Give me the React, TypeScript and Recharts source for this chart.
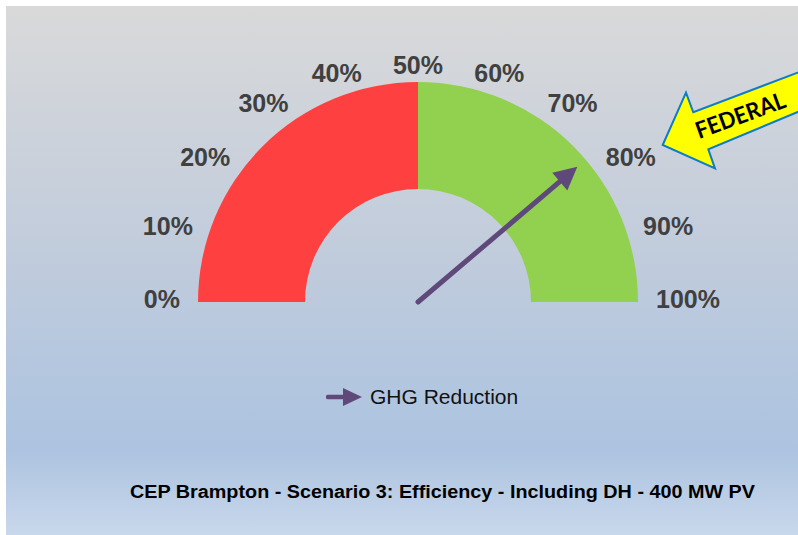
import React from 'react';
import { PieChart, Pie, Cell, Legend, Customized } from 'recharts';

// ---- data ----
const bands = [
  { name: 'Below target', value: 50 },
  { name: 'Above target', value: 50 },
];
const bandColors = ['#FF4040', '#92D050'];
const scaleMax = 100;
const ghgReduction = 77.6;
const seriesName = 'GHG Reduction';
const tickLabels = ['0%', '10%', '20%', '30%', '40%', '50%', '60%', '70%', '80%', '90%', '100%'];
const chartTitle = 'CEP Brampton - Scenario 3: Efficiency - Including DH - 400 MW PV';
const calloutText = 'FEDERAL';

const needleData = [
  { name: seriesName, value: ghgReduction },
  { name: 'Remainder', value: scaleMax - ghgReduction },
];
const tickData = tickLabels.map((label) => ({ name: label, value: 1 }));

// ---- layout ----
const W = 792;
const H = 529;
const CX = 412;
const CY = 296;
const RAD = Math.PI / 180;
const NEEDLE_COLOR = '#5F497A';
const step = 180 / (tickLabels.length - 1);

const polar = (cx: number, cy: number, r: number, angle: number) => ({
  x: cx + Math.cos(-angle * RAD) * r,
  y: cy + Math.sin(-angle * RAD) * r,
});

const renderTick = (p: any) => {
  const { cx, cy, midAngle, index } = p;
  const label = tickLabels[index];
  const fs = 25;
  const w = ((label.length - 1) * 0.556 + 0.889) * fs;
  const c = Math.cos(-midAngle * RAD);
  const s = Math.sin(-midAngle * RAD);
  const s2 = Math.sin(2 * midAngle * RAD);
  const x = cx + c * (238 + w / 2);
  const y = cy + s * (237 + 9 * s2 * s2) - 3 * (1 - Math.abs(s));
  return (
    <text
      key={`tick-${index}`}
      x={x}
      y={y}
      textAnchor="middle"
      dominantBaseline="central"
      fontFamily="'Liberation Sans', Arial, sans-serif"
      fontWeight="bold"
      fontSize={fs}
      fill="#404040"
    >
      {label}
    </text>
  );
};

const renderNeedle = (p: any) => {
  if (p.index !== 0) return null;
  const { cx, cy, endAngle, outerRadius } = p;
  const headLen = 23;
  const halfW = 11.6;
  const tip = polar(cx, cy, outerRadius, endAngle);
  const base = polar(cx, cy, outerRadius - headLen, endAngle);
  const ux = Math.cos(-endAngle * RAD);
  const uy = Math.sin(-endAngle * RAD);
  const nx = -uy;
  const ny = ux;
  const pts = `${tip.x},${tip.y} ${base.x + nx * halfW},${base.y + ny * halfW} ${base.x - nx * halfW},${base.y - ny * halfW}`;
  return (
    <g key="needle">
      <line x1={cx} y1={cy} x2={base.x + ux * 3} y2={base.y + uy * 3} stroke={NEEDLE_COLOR} strokeWidth={5} strokeLinecap="round" />
      <polygon points={pts} fill={NEEDLE_COLOR} />
    </g>
  );
};

const LegendContent = () => (
  <div style={{ display: 'flex', alignItems: 'center', height: 30 }}>
    <svg width={38} height={22} style={{ display: 'block' }}>
      <line x1={2} y1={11} x2={22} y2={11} stroke={NEEDLE_COLOR} strokeWidth={4.5} strokeLinecap="round" />
      <polygon points="36,11 17,2 17,20" fill={NEEDLE_COLOR} />
    </svg>
    <span
      style={{
        marginLeft: 6,
        fontFamily: "'Liberation Sans', Arial, sans-serif",
        fontSize: 21,
        color: '#111111',
        lineHeight: '30px',
        whiteSpace: 'nowrap',
      }}
    >
      {seriesName}
    </span>
  </div>
);

const Decorations = () => (
  <g>
    <polygon
      points="656.7,139 680,86.7 687.3,106.3 830,52 830,90 702.3,143.3 709,162.3"
      fill="#FFFF00"
      stroke="#0C7CC8"
      strokeWidth={2}
      strokeLinejoin="miter"
    />
    <text
      x={693}
      y={133}
      transform="rotate(-20 693 133)"
      fontFamily="Lato, 'Liberation Sans', Arial, sans-serif"
      fontWeight="bold"
      fontSize={23}
      fill="#000000"
      textLength={94}
      lengthAdjust="spacingAndGlyphs"
    >
      {calloutText}
    </text>
    <text
      x={124}
      y={492}
      fontFamily="'Liberation Sans Narrow', 'Liberation Sans', Arial, sans-serif"
      fontWeight="bold"
      fontSize={18}
      fill="#000000"
      textLength={625}
      lengthAdjust="spacingAndGlyphs"
    >
      {chartTitle}
    </text>
  </g>
);

export default function App() {
  return (
    <div
      style={{
        position: 'absolute',
        left: 6,
        top: 6,
        width: W,
        height: H,
        background:
          'linear-gradient(to bottom, #d9d9d9 0%, #ccd2db 25%, #bfcbdc 50%, #b2c6df 72%, #adc3df 84%, #c8d8ec 100%)',
        overflow: 'hidden',
      }}
    >
      <PieChart width={W} height={H} margin={{ top: 0, right: 0, bottom: 0, left: 0 }}>
        <Pie
          data={bands}
          dataKey="value"
          nameKey="name"
          cx={CX}
          cy={CY}
          startAngle={180}
          endAngle={0}
          innerRadius={113}
          outerRadius={220}
          stroke="none"
          isAnimationActive={false}
          legendType="none"
        >
          {bands.map((b, i) => (
            <Cell key={b.name} fill={bandColors[i]} />
          ))}
        </Pie>
        <Pie
          data={tickData}
          dataKey="value"
          nameKey="name"
          cx={CX}
          cy={CY}
          startAngle={180 + step / 2}
          endAngle={-step / 2}
          innerRadius={0}
          outerRadius={1}
          fill="none"
          stroke="none"
          label={renderTick}
          labelLine={false}
          isAnimationActive={false}
          legendType="none"
        />
        <Pie
          data={needleData}
          dataKey="value"
          nameKey="name"
          cx={CX}
          cy={CY}
          startAngle={180}
          endAngle={0}
          innerRadius={0}
          outerRadius={209}
          fill="none"
          stroke="none"
          label={renderNeedle}
          labelLine={false}
          isAnimationActive={false}
        />
        <Legend
          content={<LegendContent />}
          verticalAlign="bottom"
          wrapperStyle={{ top: 376, left: 320, bottom: 'auto', width: 'auto', height: 30 }}
        />
        <Customized component={<Decorations />} />
      </PieChart>
    </div>
  );
}
